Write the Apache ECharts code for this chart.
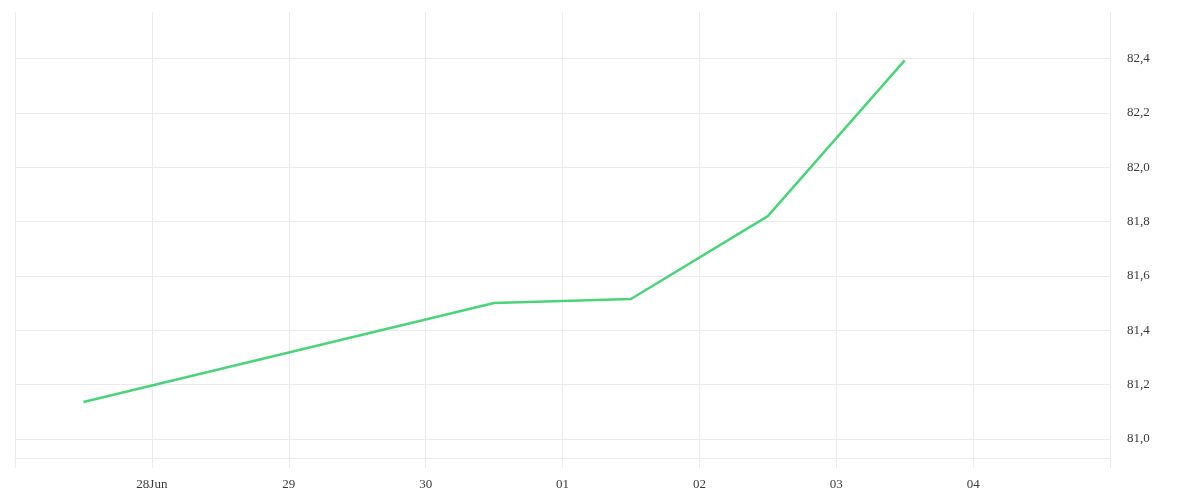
<!DOCTYPE html>
<html>
<head>
<meta charset="utf-8">
<script src="https://cdn.jsdelivr.net/npm/echarts@6/dist/echarts.min.js"></script>
<style>
  html, body { margin: 0; padding: 0; background: #fff; }
  #chart { width: 1200px; height: 500px; }
</style>
</head>
<body>
<div id="chart"></div>
<script>
var DAY = 24 * 3600 * 1000;

// data points (midday of each day)
var dates = ['2020-06-27 12:00', '2020-06-30 12:00', '2020-07-01 12:00', '2020-07-02 12:00', '2020-07-03 12:00'];
var values = [81.136, 81.50, 81.515, 81.82, 82.393];

// x range and tick labels (one per day from 28 Jun)
var xStart = '2020-06-27 00:00';
var xEnd = '2020-07-05 00:00';
var xTickLabels = ['28Jun', '29', '30', '01', '02', '03', '04'];

// y range
var yMin = 80.93;
var yMax = 82.571;

function toTime(s) {
	var p = s.split(/[- :]/);
	return new Date(+p[0], +p[1] - 1, +p[2], +p[3], +p[4]).getTime();
}

var startT = toTime(xStart);
var seriesData = [];
for (var i = 0; i < dates.length; i++) {
	seriesData.push([toTime(dates[i]), values[i]]);
}

var gridColor = '#ebebeb';
var textColor = '#3a3a3a';
var font = '"Liberation Serif", "DejaVu Serif", serif';

var chart = echarts.init(document.getElementById('chart'));
chart.setOption({
	animation: false,
	grid: { left: 15, right: 90, top: 12, bottom: 42, containLabel: false },
	xAxis: {
		type: 'time',
		min: startT,
		max: toTime(xEnd),
		minInterval: DAY,
		maxInterval: DAY,
		axisLine: { show: true, lineStyle: { color: gridColor, width: 1 } },
		axisTick: { show: true, length: 10, lineStyle: { color: gridColor } },
		splitLine: { show: true, lineStyle: { color: gridColor, width: 1 } },
		axisLabel: {
			color: textColor,
			fontFamily: font,
			fontSize: 13,
			margin: 20,
			showMinLabel: false,
			showMaxLabel: false,
			formatter: function (v) {
				var idx = Math.round((v - startT) / DAY) - 1;
				return xTickLabels[idx] || '';
			}
		}
	},
	yAxis: {
		type: 'value',
		position: 'right',
		min: yMin,
		max: yMax,
		splitNumber: 8,
		axisLine: { show: false },
		axisTick: { show: false },
		splitLine: {
			show: true,
			lineStyle: { color: [gridColor, gridColor, gridColor, gridColor, gridColor, gridColor, gridColor, gridColor, gridColor, 'rgba(0,0,0,0)'], width: 1 }
		},
		axisLabel: {
			color: textColor,
			fontFamily: font,
			fontSize: 13,
			margin: 17,
			padding: [4, 0, 0, 0],
			showMinLabel: false,
			showMaxLabel: false,
			formatter: function (v) {
				return v.toFixed(1).replace('.', ',');
			}
		}
	},
	series: [{
		type: 'line',
		data: seriesData,
		showSymbol: false,
		symbol: 'none',
		lineStyle: { color: '#4cd27a', width: 2.5 },
		itemStyle: { color: '#4cd27a' }
	}]
});
</script>
</body>
</html>
